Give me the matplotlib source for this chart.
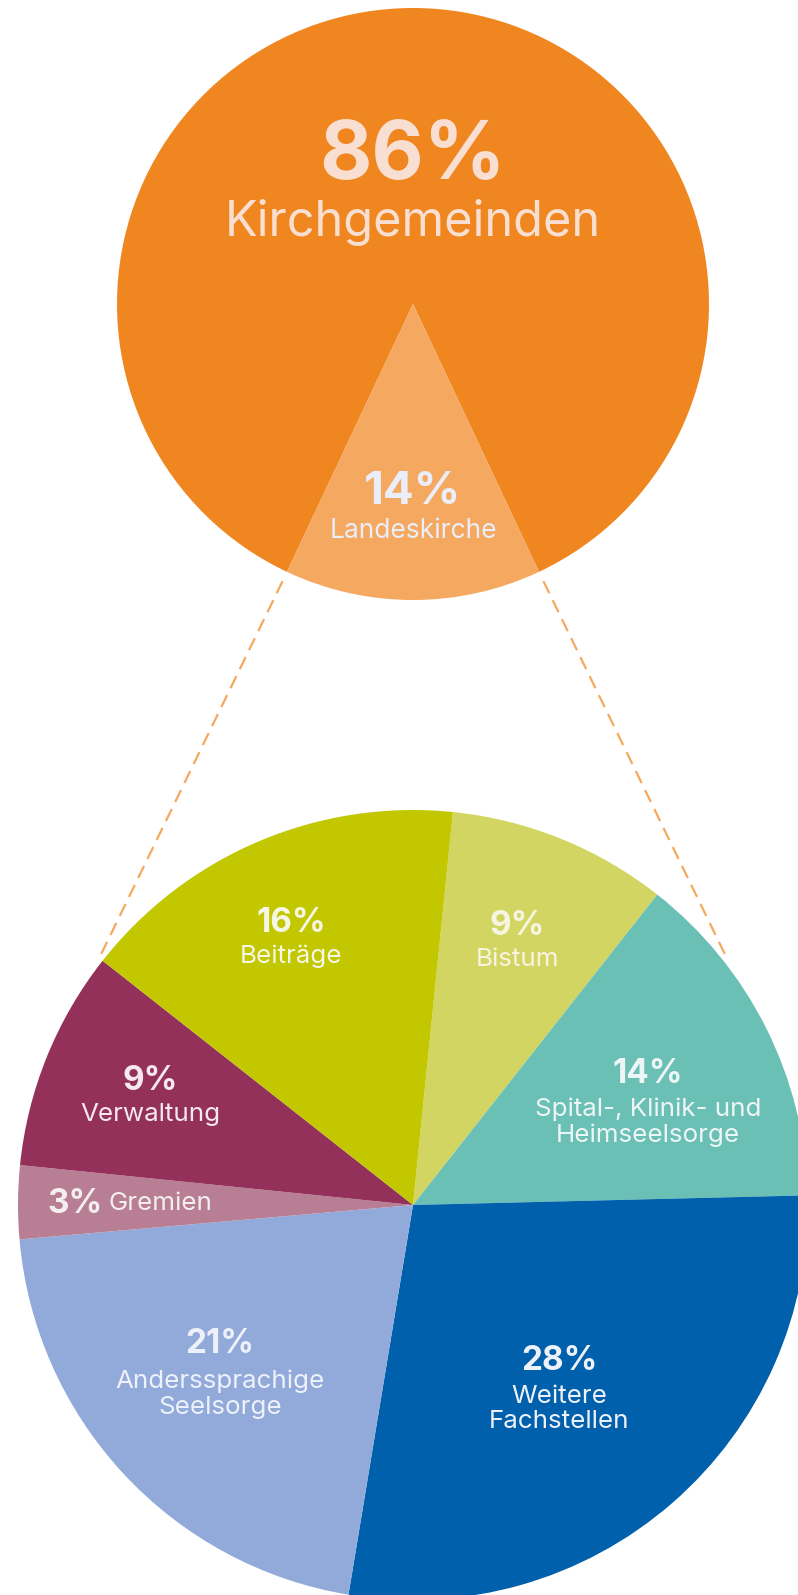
import matplotlib.pyplot as plt
import numpy as np

plt.rcParams['font.family'] = ['Inter', 'DejaVu Sans']

# Obere Aufteilung
top_labels = ['Kirchgemeinden', 'Landeskirche']
top_values = [86, 14]
top_colors = ['#F0861F', '#F5A85F']

# Aufteilung Landeskirche (im Uhrzeigersinn ab Bistum)
sub_labels = ['Bistum', 'Spital-, Klinik- und\nHeimseelsorge', 'Weitere\nFachstellen',
              'Anderssprachige\nSeelsorge', 'Gremien', 'Verwaltung', 'Beiträge']
sub_values = [9, 14, 28, 21, 3, 9, 16]
sub_colors = ['#D3D563', '#6BC0B6', '#0060AC', '#91AADA', '#B87F94', '#94315B', '#C2C700']

W, H = 798, 1595


def Y(y):
    # Bildkoordinate (von oben) -> Datenkoordinate
    return H - y


fig = plt.figure(figsize=(W / 100, H / 100), dpi=100)
ax = fig.add_axes([0, 0, 1, 1])

# oberer Kreis
top_c = (413, Y(304))
top_r = 296
land_half = top_values[1] * 3.6 / 2
ax.pie(top_values, colors=top_colors, center=top_c, radius=top_r,
       startangle=270 + land_half, wedgeprops=dict(linewidth=0))

# unterer Kreis
sub_c = (413, Y(1205))
sub_r = 395
ax.pie(sub_values, colors=sub_colors, center=sub_c, radius=sub_r,
       startangle=84.2, counterclock=False, wedgeprops=dict(linewidth=0))

# gestrichelte Verbindungslinien
for a_top, a_sub in [(270 - land_half, 141.5), (270 + land_half, 38.5)]:
    t = np.radians(a_top)
    s = np.radians(a_sub)
    x0 = top_c[0] + top_r * 1.035 * np.cos(t)
    y0 = top_c[1] + top_r * 1.035 * np.sin(t)
    x1 = sub_c[0] + sub_r * 1.012 * np.cos(s)
    y1 = sub_c[1] + sub_r * 1.012 * np.sin(s)
    ax.plot([x0, x1], [y0, y1], color='#F5A85F', lw=1.6, ls=(0, (6, 3.5)))

# Beschriftungen oben
ax.text(413, Y(158), '86%', ha='center', va='center', fontsize=58,
        fontweight='bold', color='#F9DFD2')
ax.text(413, Y(222), top_labels[0], ha='center', va='center', fontsize=35,
        color='#F9DFD2')
ax.text(413, Y(492), '14%', ha='center', va='center', fontsize=33,
        fontweight='bold', color='#E9EEF9')
ax.text(413, Y(531), top_labels[1], ha='center', va='center', fontsize=19,
        color='#E9EEF9')

# Beschriftungen unten: (x, Prozent-y, Label-y, Farbe)
pos = {
    'Bistum': (517, 926, 959, '#F6F5E2'),
    'Spital-, Klinik- und\nHeimseelsorge': (648, 1074, 1122, '#EEF6F5'),
    'Weitere\nFachstellen': (559, 1361, 1409, '#EEF2F8'),
    'Anderssprachige\nSeelsorge': (220, 1344, 1394, '#EEF1FA'),
    'Verwaltung': (150, 1081, 1114, '#F5E8EE'),
    'Beiträge': (291, 923, 956, '#F6F6E6'),
}
for lab, val in zip(sub_labels, sub_values):
    if lab == 'Gremien':
        ax.text(47, Y(1204), f'{val}%', ha='left', va='center', fontsize=24,
                fontweight='bold', color='#F5EEF1')
        ax.text(108, Y(1204), lab, ha='left', va='center', fontsize=18.7,
                color='#F5EEF1')
        continue
    x, yp, yl, col = pos[lab]
    ax.text(x, Y(yp), f'{val}%', ha='center', va='center', fontsize=24,
            fontweight='bold', color=col)
    ax.text(x, Y(yl), lab, ha='center', va='center', fontsize=18.7,
            color=col, linespacing=1.15)

ax.set_xlim(0, W)
ax.set_ylim(0, H)
ax.set_aspect('equal')
ax.axis('off')
fig.savefig('out.png', dpi=100)
